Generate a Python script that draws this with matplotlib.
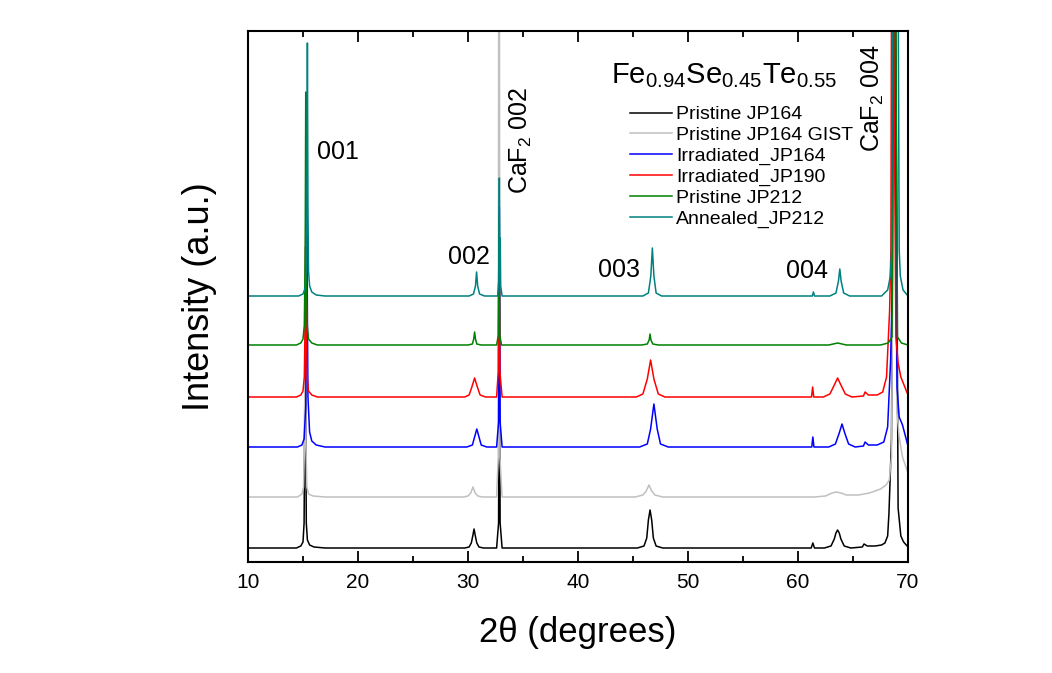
import matplotlib
matplotlib.use("Agg")
import matplotlib.pyplot as plt

plt.rcParams['font.family'] = ['Liberation Sans', 'DejaVu Sans']
plt.rcParams['mathtext.fontset'] = 'custom'
plt.rcParams['mathtext.rm'] = 'Liberation Sans'
plt.rcParams['mathtext.default'] = 'regular'

# XRD patterns: 2theta (deg) and intensity above each trace's own baseline (a.u.)
bk_x = [10.0, 14.4, 14.8, 15.0, 15.1, 15.15, 15.2, 15.25, 15.3, 15.4, 15.6, 16.0, 17.0,
        29.7, 30.1, 30.3, 30.45, 30.55, 30.65, 30.8, 31.0, 31.4,
        32.6, 32.78, 32.85, 32.92, 33.1,
        45.4, 46.0, 46.25, 46.4, 46.55, 46.7, 46.85, 47.1, 47.7,
        61.2, 61.35, 61.5,
        62.4, 63.0, 63.3, 63.45, 63.6, 63.75, 63.9, 64.2, 64.8,
        65.85, 66.0, 66.3, 67.0, 67.6, 67.9, 68.15, 68.27, 68.5, 68.7, 68.8, 68.9,
        69.1, 69.35, 69.6, 70.0]
bk_y = [0, 0, 2, 6, 25, 120, 260, 120, 25, 8, 3, 1, 0,
        0, 1, 5, 13, 19, 13, 5, 1, 0,
        0, 25, 300, 25, 0,
        0, 2, 10, 28, 38, 28, 10, 2, 0,
        0, 5, 0,
        0, 2, 9, 15, 18, 15, 9, 2, 0,
        1, 4, 2, 2, 3, 5, 12, 35, 110, 500, 700, 500,
        40, 12, 6, 1]

gr_x = [10.0, 14.5, 14.9, 15.05, 15.15, 15.2, 15.25, 15.35, 15.5, 15.9, 17.0,
        29.6, 30.0, 30.25, 30.45, 30.65, 30.9, 31.3,
        32.6, 32.75, 32.82, 32.9, 33.1,
        45.2, 45.9, 46.2, 46.45, 46.7, 47.0, 47.7,
        61.5, 62.5, 63.1, 63.5, 63.9, 64.4, 65.5, 66.5, 67.5, 68.0, 68.3, 68.5,
        68.65, 68.75, 68.85, 69.0, 69.2, 69.5, 70.0]
gr_y = [0, 0, 3, 10, 60, 250, 60, 10, 3, 1, 0,
        0, 1, 4, 10, 4, 1, 0,
        0, 40, 900, 40, 0,
        0, 2, 6, 12, 6, 2, 0,
        0, 1, 4, 5, 4, 2, 2, 4, 8, 12, 17, 40,
        300, 700, 300, 84, 60, 40, 24]

bl_x = [10.0, 14.5, 14.9, 15.1, 15.25, 15.3, 15.35, 15.4, 15.45, 15.6, 15.8, 16.2, 17.0,
        29.9, 30.4, 30.6, 30.8, 31.0, 31.2, 31.7,
        32.6, 32.78, 32.85, 32.92, 33.1,
        45.6, 46.3, 46.6, 46.9, 47.2, 47.5, 48.2,
        61.25, 61.35, 61.45,
        62.8, 63.4, 63.75, 64.0, 64.25, 64.6, 65.2,
        65.95, 66.1, 66.4, 67.2, 67.8, 68.15, 68.42, 68.55, 68.65, 68.75, 68.85,
        69.0, 69.2, 69.5, 70.0]
bl_y = [0, 0, 2, 8, 40, 120, 255, 130, 50, 15, 6, 2, 0,
        0, 2, 10, 18, 10, 2, 0,
        0, 25, 240, 25, 0,
        0, 3, 18, 43, 18, 3, 0,
        0, 10, 0,
        0, 3, 14, 23, 14, 3, 0,
        1, 5, 2, 2, 5, 20, 87, 150, 400, 800, 300,
        60, 30, 22, 1]

rd_x = [10.0, 14.4, 14.8, 15.0, 15.12, 15.2, 15.25, 15.3, 15.38, 15.5, 15.8, 16.3,
        29.7, 30.1, 30.35, 30.6, 30.85, 31.1, 31.6,
        32.6, 32.75, 32.82, 32.9, 33.1,
        45.3, 45.9, 46.3, 46.6, 46.9, 47.3, 47.9,
        61.23, 61.33, 61.43,
        62.3, 62.9, 63.3, 63.6, 63.9, 64.3, 64.9,
        65.95, 66.1, 66.4, 67.2, 67.7, 68.05, 68.33, 68.45, 68.58, 68.65, 68.75,
        68.9, 69.1, 69.35, 70.0]
rd_y = [0, 0, 2, 6, 20, 80, 175, 80, 20, 6, 2, 0,
        0, 2, 10, 19, 10, 2, 0,
        0, 25, 175, 25, 0,
        0, 3, 18, 37, 18, 3, 0,
        0, 10, 0,
        0, 3, 12, 19, 12, 3, 0,
        1, 5, 2, 2, 5, 20, 87, 150, 800, 800, 300,
        60, 34, 20, 2]

gn_x = [10.0, 14.4, 14.8, 15.0, 15.12, 15.2, 15.25, 15.3, 15.38, 15.5, 15.8, 16.3,
        30.0, 30.4, 30.52, 30.6, 30.68, 30.8, 31.2,
        32.6, 32.76, 32.82, 32.88, 33.05,
        45.8, 46.3, 46.47, 46.55, 46.63, 46.8, 47.3,
        62.8, 63.6, 64.4,
        67.5, 68.2, 68.55, 68.7, 68.8, 68.9, 69.05, 69.4, 70.0]
gn_y = [0, 0, 2, 6, 20, 90, 253, 90, 20, 6, 2, 0,
        0, 1, 6, 13, 6, 1, 0,
        0, 10, 130, 10, 0,
        0, 1, 5, 11, 5, 1, 0,
        0, 2, 0,
        0, 2, 8, 300, 800, 300, 8, 2, 0]

tl_x = [10.0, 14.6, 15.0, 15.2, 15.3, 15.35, 15.4, 15.45, 15.5, 15.6, 15.8, 16.2, 17.0,
        30.1, 30.5, 30.68, 30.78, 30.88, 31.05, 31.5,
        32.7, 32.8, 32.85, 32.89, 32.93, 32.97, 33.1,
        45.9, 46.4, 46.62, 46.76, 46.9, 47.1, 47.6,
        61.3, 61.4, 61.5,
        62.9, 63.45, 63.68, 63.8, 63.92, 64.15, 64.7,
        67.6, 68.15, 68.4, 68.5, 68.7, 68.85, 69.0, 69.2, 69.3, 69.55, 70.0]
tl_y = [0, 0, 2, 8, 25, 90, 253, 90, 25, 10, 4, 1, 0,
        0, 2, 10, 24, 10, 2, 0,
        0, 15, 118, 20, 58, 10, 0,
        0, 3, 20, 48, 20, 3, 0,
        0, 4, 0,
        0, 3, 15, 27, 15, 3, 0,
        0, 6, 20, 46, 600, 900, 600, 46, 20, 6, 0]

labels = ['Pristine JP164', 'Pristine JP164 GIST', 'Irradiated_JP164',
          'Irradiated_JP190', 'Pristine JP212', 'Annealed_JP212']
colors = ['#000000', '#c0c0c0', '#0000ff', '#ff0000', '#008000', '#008080']
offsets = [14, 65, 115, 165, 217, 266]
xs = [bk_x, gr_x, bl_x, rd_x, gn_x, tl_x]
ys = [bk_y, gr_y, bl_y, rd_y, gn_y, tl_y]

fig = plt.figure(figsize=(10.52, 6.73), dpi=100)
ax = fig.add_axes([248/1052, 111/673, 660/1052, 531/673])

for x, y, off, c, lab in zip(xs, ys, offsets, colors, labels):
    ax.plot(x, [v + off for v in y], color=c, lw=1.1, label=lab)

ax.set_xlim(10, 70)
ax.set_ylim(0, 531)
ax.set_xticks([10, 20, 30, 40, 50, 60, 70])
ax.set_xticks([15, 25, 35, 45, 55, 65], minor=True)
ax.tick_params(axis='x', which='both', direction='in', top=True, bottom=True,
               labelsize=15, width=1.3, pad=8)
ax.tick_params(axis='x', which='major', length=8)
ax.tick_params(axis='x', which='minor', length=4)
ax.tick_params(axis='y', which='both', left=False, right=False, labelleft=False)
for s in ax.spines.values():
    s.set_linewidth(1.5)

ax.set_xlabel('2θ (degrees)', fontsize=25, labelpad=17)
ax.set_ylabel('Intensity (a.u.)', fontsize=26, labelpad=22)

ax.text(16.3, 410, '001', fontsize=18, ha='left', va='center')
ax.text(28.2, 305, '002', fontsize=18, ha='left', va='center')
ax.text(41.8, 292, '003', fontsize=18, ha='left', va='center')
ax.text(58.9, 291, '004', fontsize=18, ha='left', va='center')
ax.text(34.8, 368, 'CaF$_2$ 002', fontsize=18, rotation=90, ha='center', va='bottom')
ax.text(66.8, 410, 'CaF$_2$ 004', fontsize=18, rotation=90, ha='center', va='bottom')

ax.text(43.0, 479, 'Fe$_{0.94}$Se$_{0.45}$Te$_{0.55}$', fontsize=21,
        ha='left', va='baseline')
ax.legend(loc='upper left', bbox_to_anchor=(0.579, 0.859), frameon=False,
          fontsize=14, handlelength=2.15, handletextpad=0.2, labelspacing=0.16,
          borderpad=0, borderaxespad=0)

plt.savefig('out.png', dpi=100)
